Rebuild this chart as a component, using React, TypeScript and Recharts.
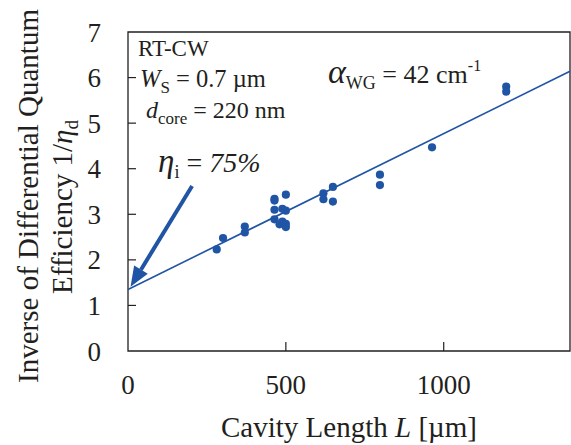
import React from 'react';
import { ComposedChart, Scatter, XAxis, YAxis, ReferenceLine, ReferenceArea } from 'recharts';

const cavityLength = [281, 301, 370, 370, 464, 464, 464, 464, 500, 489, 500, 480, 489, 500, 500, 619, 619, 649, 649, 798, 798, 963, 1198, 1198];
const inverseEfficiency = [2.23, 2.48, 2.73, 2.6, 3.34, 3.3, 3.1, 2.89, 3.43, 3.12, 3.08, 2.78, 2.84, 2.79, 2.72, 3.46, 3.33, 3.6, 3.28, 3.87, 3.64, 4.47, 5.8, 5.69];
const fitLength = [0, 1400];
const fitInverse = [1.35, 6.14];
const arrowLength = [203, 8];
const arrowInverse = [3.62, 1.41];
const xTicks = [0, 500, 1000];
const yTicks = [0, 1, 2, 3, 4, 5, 6, 7];

const points = cavityLength.map((L, i) => ({ L, inv: inverseEfficiency[i] }));

const BLUE = '#2054a4';
const INK = '#231f20';
const FONT = '"Liberation Serif", "Times New Roman", serif';

const YTick = (props: any) => {
  const { x, y, payload } = props;
  return (
    <g>
      {payload.value !== 0 && payload.value !== 7 && (
        <line x1={x + 27} x2={x + 35} y1={y} y2={y} stroke={INK} strokeWidth={1.2} />
      )}
      <text x={x} y={y + 9.5} textAnchor="end" fontFamily={FONT} fontSize={27} fill={INK}>
        {payload.value}
      </text>
    </g>
  );
};

const XTick = (props: any) => {
  const { x, y, payload } = props;
  return (
    <g>
      {payload.value !== 0 && (
        <line x1={x} x2={x} y1={y - 43} y2={y - 52} stroke={INK} strokeWidth={1.2} />
      )}
      <text x={x} y={y} textAnchor="middle" fontFamily={FONT} fontSize={27} fill={INK}>
        {payload.value}
      </text>
    </g>
  );
};

const YLabel = () => (
  <g fontFamily={FONT} fill={INK}>
    <text transform="translate(38,196) rotate(-90)" textAnchor="middle" fontSize={29}>
      Inverse of Differential Quantum
    </text>
    <text transform="translate(72,207) rotate(-90)" textAnchor="middle" fontSize={29}>
      Efficiency 1/<tspan fontStyle="italic">η</tspan>
      <tspan fontSize={19} dy={6}>d</tspan>
    </text>
  </g>
);

const XLabel = () => (
  <text x={349} y={437} textAnchor="middle" fontFamily={FONT} fontSize={29} fill={INK}>
    Cavity Length <tspan fontStyle="italic">L</tspan> [µm]
  </text>
);

const Arrow = (props: any) => {
  const { x1, y1, x2, y2 } = props;
  const dx = x2 - x1;
  const dy = y2 - y1;
  const len = Math.sqrt(dx * dx + dy * dy);
  const ux = dx / len;
  const uy = dy / len;
  const headLen = 20;
  const headW = 8;
  const bx = x2 - ux * headLen;
  const by = y2 - uy * headLen;
  const px = -uy;
  const py = ux;
  return (
    <g>
      <line x1={x1} y1={y1} x2={bx} y2={by} stroke={BLUE} strokeWidth={4} />
      <polygon
        points={`${x2},${y2} ${bx + px * headW},${by + py * headW} ${bx - px * headW},${by - py * headW}`}
        fill={BLUE}
      />
    </g>
  );
};

const Dot = (props: any) => <circle cx={props.cx} cy={props.cy} r={4.1} fill={BLUE} />;

export default function App() {
  return (
    <div style={{ position: 'absolute', left: 0, top: 0, width: 571, height: 445, background: '#fff' }}>
      <ComposedChart width={571} height={445} margin={{ top: 32, right: 1, left: 0, bottom: 0 }}>
        <XAxis
          type="number"
          dataKey="L"
          domain={[0, 1400]}
          ticks={xTicks}
          allowDataOverflow
          height={94}
          tickSize={0}
          tickMargin={43}
          tick={<XTick />}
          axisLine={false}
          tickLine={false}
          label={<XLabel />}
        />
        <YAxis
          type="number"
          dataKey="inv"
          domain={[0, 7]}
          ticks={yTicks}
          width={128}
          tickSize={0}
          tickMargin={27}
          tick={<YTick />}
          axisLine={false}
          tickLine={false}
          label={<YLabel />}
        />
        <ReferenceArea x1={0} x2={1400} y1={0} y2={7} fill="none" stroke={INK} strokeWidth={1.3} ifOverflow="visible" />
        <ReferenceLine
          segment={[
            { x: fitLength[0], y: fitInverse[0] },
            { x: fitLength[1], y: fitInverse[1] },
          ]}
          stroke={BLUE}
          strokeWidth={1.6}
          ifOverflow="visible"
        />
        <ReferenceLine
          segment={[
            { x: arrowLength[0], y: arrowInverse[0] },
            { x: arrowLength[1], y: arrowInverse[1] },
          ]}
          shape={<Arrow />}
          ifOverflow="visible"
        />
        <Scatter data={points} dataKey="inv" shape={<Dot />} isAnimationActive={false} />
      </ComposedChart>
      <svg width={571} height={445} style={{ position: 'absolute', left: 0, top: 0, pointerEvents: 'none' }}>
        <g fontFamily={FONT} fill={INK}>
          <text x={138} y={56} fontSize={23}>RT-CW</text>
          <text x={140} y={87} fontSize={24.5}>
            <tspan fontStyle="italic">W</tspan>
            <tspan fontSize={17} dy={6}>S</tspan>
            <tspan dy={-6}> = 0.7 µm</tspan>
          </text>
          <text x={146} y={118} fontSize={24}>
            <tspan fontStyle="italic">d</tspan>
            <tspan fontSize={17} dy={6}>core</tspan>
            <tspan dy={-6}> = 220 nm</tspan>
          </text>
          <text x={328} y={83} fontSize={26}>
            <tspan fontStyle="italic" fontSize={34}>α</tspan>
            <tspan fontSize={18} dy={6}>WG</tspan>
            <tspan dy={-6}> = 42 cm</tspan>
            <tspan fontSize={16} dy={-12}>-1</tspan>
          </text>
          <text x={158} y={172} fontSize={28}>
            <tspan fontStyle="italic" fontSize={33}>η</tspan>
            <tspan fontSize={18} dy={6}>i</tspan>
            <tspan dy={-6}> = </tspan>
            <tspan fontStyle="italic">75%</tspan>
          </text>
        </g>
      </svg>
    </div>
  );
}
